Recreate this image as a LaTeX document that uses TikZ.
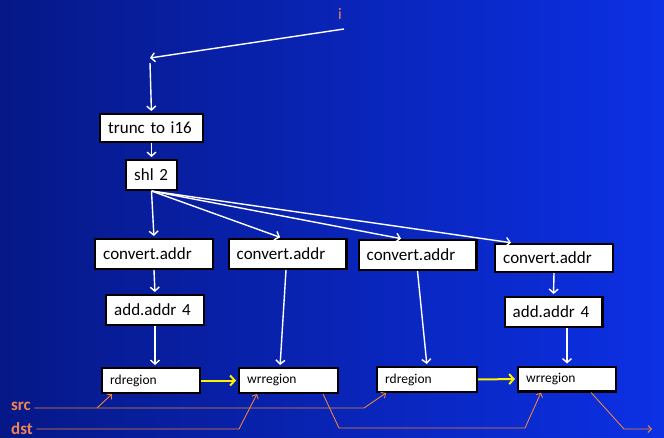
\documentclass[tikz,border=0pt]{standalone}
\usepackage{fontspec}
\newfontfamily\boxfont{Carlito}
\usepackage{xcolor}
\usepackage{tikz}
\usetikzlibrary{arrows.meta, positioning}
\definecolor{slidedark}{RGB}{6,24,135}
\definecolor{slidemid}{RGB}{9,34,185}
\definecolor{slidelight}{RGB}{12,48,228}
\definecolor{wireorange}{RGB}{236,130,62}
\definecolor{labelorange}{RGB}{240,132,80}

\begin{document}
\begin{tikzpicture}[x=1pt, y=-1pt,
  blk/.style={draw=black, line width=2.4pt, fill=white, inner xsep=8pt, inner ysep=2pt, align=left, font=\boxfont\fontsize{17}{20}\selectfont, minimum height=29.6pt},
  reg/.style={blk, font=\boxfont\fontsize{13.5}{16}\selectfont, minimum height=24.6pt},
  wire/.style={-{Straight Barb[length=4pt,width=9pt]}, white, line width=1.4pt, shorten >=2pt},
  pass/.style={-{Straight Barb[length=4.5pt,width=10pt]}, yellow, line width=2pt, shorten >=2pt},
  flow/.style={-{Straight Barb[length=3.5pt,width=7pt]}, wireorange, line width=0.9pt}]
  \useasboundingbox (0,0) rectangle (664,438);
  \shade[left color=slidedark, middle color=slidemid, right color=slidelight] (0,0) rectangle (664,438);
  % ops
  \node[blk, text width=86.6pt, minimum height=27.6pt] (trunc) at (151.5,128) {trunc to i16};
  \node[blk, text width=34.6pt] (shl) at (151.5,175) {shl 2};
  \node[blk, text width=101.6pt] (cv1) at (154,254) {convert.addr};
  \node[blk, text width=101.6pt] (cv2) at (287.5,254) {convert.addr};
  \node[blk, text width=101.6pt] (cv3) at (417.5,255) {convert.addr};
  \node[blk, text width=101.6pt, minimum height=27.6pt] (cv4) at (554,258) {convert.addr};
  \node[blk, text width=81.6pt] (add1) at (155,310) {add.addr 4};
  \node[blk, text width=81.6pt] (add2) at (553.5,312) {add.addr 4};
  \node[reg, text width=81.6pt] (rd1) at (151,380.5) {rdregion};
  \node[reg, text width=82.6pt] (wr1) at (288.5,380.5) {wrregion};
  \node[reg, text width=83.6pt] (rd2) at (427,379.5) {rdregion};
  \node[reg, text width=81.6pt] (wr2) at (567,379) {wrregion};
  % inputs
  \node[text=labelorange, font=\boxfont\fontsize{16}{18}\selectfont] (i) at (340,14) {i};
  \node[text=labelorange, font=\boxfont\bfseries\fontsize{17}{19}\selectfont] (src) at (21,406) {src};
  \node[text=labelorange, font=\boxfont\bfseries\fontsize{17}{19}\selectfont] (dst) at (22,428.5) {dst};
  \coordinate (ifrom) at (344,29);
  \coordinate (bend) at (150,58);
  \coordinate (bend2) at (150,63);
  % index chain
  \draw[wire, shorten >=0pt] (ifrom) -- (bend);
  \draw[wire] (bend2) -- (trunc.north);
  \draw[wire] (trunc.south) -- (shl.north);
  \draw[wire] (shl.south) -- (cv1.north);
  \draw[wire] (shl.south) -- ([xshift=-5.5pt]cv2.north);
  \draw[wire] (shl.south) -- ([xshift=-14.5pt]cv3.north);
  \draw[wire] (shl.south) -- ([xshift=-41pt]cv4.north);
  \draw[wire] (cv1.south) -- (add1.north);
  \draw[wire] (cv4.south) -- (add2.north);
  \draw[wire] (add1.south) -- (add1.south |- rd1.north);
  \draw[wire] ([xshift=-1.5pt]cv2.south) -- ([xshift=-8.5pt]wr1.north);
  \draw[wire] (cv3.south) -- (rd2.north);
  \draw[wire] (wr2.north |- add2.south) -- (wr2.north);
  % region copies
  \draw[pass] (rd1.east) -- (wr1.west);
  \draw[pass] (rd2.east) -- (wr2.west);
  % data flow
  \coordinate (srcfork) at (97,408);
  \coordinate (srcend) at (364,408);
  \coordinate (dstbend) at (239,429);
  \coordinate (d1) at (339,428);
  \coordinate (d2) at (525,428);
  \coordinate (e1) at (624,429);
  \coordinate (outend) at (652,429);
  \draw[flow] (src.east |- srcend) -- (srcend) -- ([xshift=10pt]rd2.south west);
  \draw[flow] (srcfork) -- ([xshift=11pt]rd1.south west);
  \draw[flow] (dst.east |- dstbend) -- (dstbend) -- ([xshift=19pt]wr1.south west);
  \draw[flow] ([xshift=-16pt]wr1.south east) -- (d1) -- (d2) -- ([xshift=24pt]wr2.south west);
  \draw[flow] ([xshift=-26pt]wr2.south east) -- (e1) -- (outend);
\end{tikzpicture}
\end{document}
